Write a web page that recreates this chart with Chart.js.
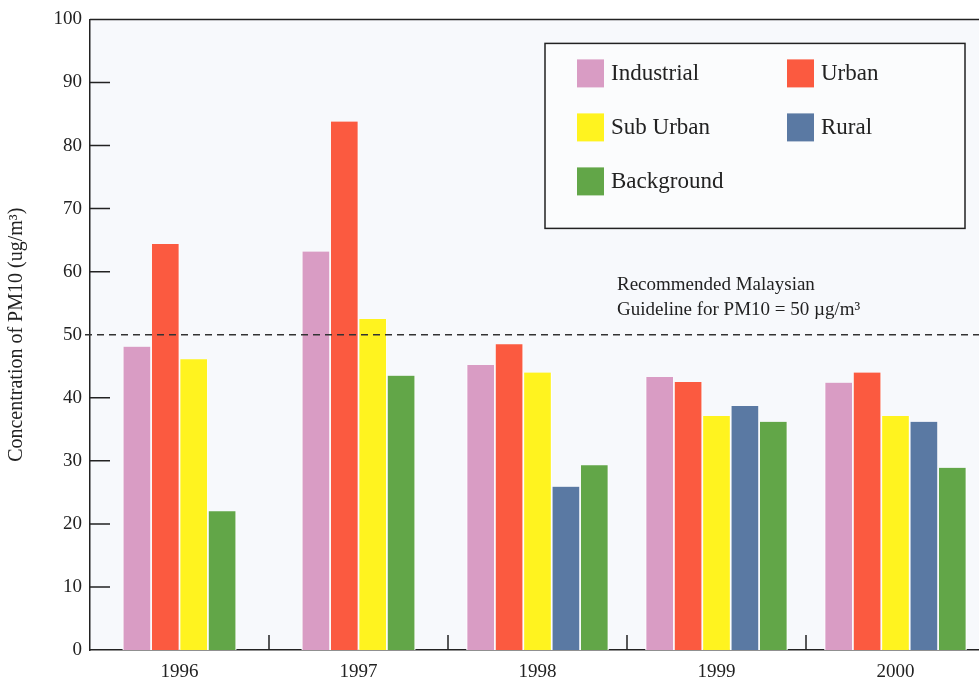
<!DOCTYPE html>
<html>
<head>
<meta charset="utf-8">
<title>PM10 concentration 1996-2000</title>
<script src="https://cdn.jsdelivr.net/npm/chart.js@4.4.1/dist/chart.umd.min.js"></script>
<style>
  html, body { margin: 0; padding: 0; background: #ffffff; overflow: hidden; }
  #wrap { width: 1000px; height: 686px; }
</style>
</head>
<body>
<div id="wrap"><canvas id="pm10" width="1000" height="686"></canvas></div>
<script>
// ─── data ───────────────────────────────────────────────────────
const years = ['1996', '1997', '1998', '1999', '2000'];

const industrial = [48.1, 63.2, 45.2, 43.3, 42.4];
const urban      = [64.4, 83.8, 48.5, 42.5, 44.0];
const subUrban   = [46.1, 52.5, 44.0, 37.1, 37.1];
const rural      = [null, null, 25.9, 38.7, 36.2];
const background = [22.0, 43.5, 29.3, 36.2, 28.9];

const guideline = 50;
const guidelineText = ['Recommended Malaysian', 'Guideline for PM10 = 50 \u00b5g/m\u00b3'];

const yTicks = [0, 10, 20, 30, 40, 50, 60, 70, 80, 90, 100];

// ─── look ───────────────────────────────────────────────────────
const serif = "'Liberation Serif', 'Times New Roman', serif";
const ink = '#222222';
const plotBg = '#f7f9fc';

function bars(label, data, color) {
  return {
    label,
    data,
    backgroundColor: color,
    borderColor: '#fcfdfe',
    borderWidth: { left: 1.2, right: 1.2, top: 0, bottom: 0 },
    borderSkipped: false,
    barThickness: 28.4,
  };
}

// plot background + top frame line
const framePlugin = {
  id: 'frame',
  beforeDraw(chart) {
    const { ctx, chartArea: a } = chart;
    ctx.save();
    ctx.fillStyle = plotBg;
    ctx.fillRect(a.left, a.top, a.right - a.left, a.bottom - a.top);
    ctx.restore();
  },
  afterDraw(chart) {
    const { ctx, chartArea: a } = chart;
    ctx.save();
    ctx.strokeStyle = ink;
    ctx.lineWidth = 1.5;
    ctx.beginPath();
    ctx.moveTo(a.left, a.top);
    ctx.lineTo(a.right, a.top);
    ctx.stroke();
    ctx.restore();
  },
};

// inward tick marks on both axes
const tickPlugin = {
  id: 'inwardTicks',
  afterDatasetsDraw(chart) {
    const { ctx, chartArea: a, scales: { x, y } } = chart;
    ctx.save();
    ctx.strokeStyle = ink;
    ctx.lineWidth = 1.5;
    ctx.beginPath();
    y.ticks.forEach((t) => {
      if (t.value === 0 || t.value === 100 || t.value === guideline) return;
      const py = y.getPixelForValue(t.value);
      ctx.moveTo(a.left, py);
      ctx.lineTo(a.left + 20, py);
    });
    for (let i = 1; i < years.length; i++) {
      const px = (x.getPixelForValue(i - 1) + x.getPixelForValue(i)) / 2;
      ctx.moveTo(px, a.bottom);
      ctx.lineTo(px, a.bottom - 15);
    }
    ctx.stroke();
    ctx.restore();
  },
};

// dashed guideline with its caption
const guidelinePlugin = {
  id: 'guideline',
  afterDatasetsDraw(chart) {
    const { ctx, chartArea: a, scales: { y } } = chart;
    const py = y.getPixelForValue(guideline);
    ctx.save();
    ctx.strokeStyle = '#333333';
    ctx.lineWidth = 1.4;
    ctx.setLineDash([7, 5]);
    ctx.beginPath();
    ctx.moveTo(a.left - 5, py);
    ctx.lineTo(a.right, py);
    ctx.stroke();
    ctx.setLineDash([]);
    ctx.fillStyle = ink;
    ctx.font = `19px ${serif}`;
    ctx.textBaseline = 'middle';
    ctx.textAlign = 'left';
    ctx.fillText(guidelineText[0], a.left + 527, py - 50);
    ctx.fillText(guidelineText[1], a.left + 527, py - 25);
    ctx.restore();
  },
};

// boxed two-column legend
const legendPlugin = {
  id: 'boxLegend',
  afterDraw(chart) {
    const { ctx, chartArea: a } = chart;
    const bx = a.left + 455, by = a.top + 24, bw = 420, bh = 185;
    ctx.save();
    ctx.fillStyle = '#fbfcfd';
    ctx.fillRect(bx, by, bw, bh);
    ctx.strokeStyle = ink;
    ctx.lineWidth = 1.5;
    ctx.strokeRect(bx, by, bw, bh);
    ctx.font = `23px ${serif}`;
    ctx.textBaseline = 'middle';
    ctx.textAlign = 'left';
    chart.data.datasets.forEach((ds, i) => {
      const col = i % 2, row = Math.floor(i / 2);
      const sx = bx + 32 + col * 210;
      const cy = by + 30 + row * 54;
      ctx.fillStyle = ds.backgroundColor;
      ctx.fillRect(sx, cy - 14, 27, 28);
      ctx.fillStyle = ink;
      ctx.fillText(ds.label, sx + 34, cy + 1);
    });
    ctx.restore();
  },
};

new Chart(document.getElementById('pm10'), {
  type: 'bar',
  data: {
    labels: years,
    datasets: [
      bars('Industrial', industrial, '#d99cc4'),
      bars('Urban', urban, '#fb5a40'),
      bars('Sub Urban', subUrban, '#fff31f'),
      bars('Rural', rural, '#5a79a3'),
      bars('Background', background, '#62a648'),
    ],
  },
  options: {
    responsive: false,
    animation: false,
    skipNull: true,
    layout: { padding: { top: 18, right: 15, left: 0, bottom: 0 } },
    plugins: { legend: { display: false }, tooltip: { enabled: false } },
    scales: {
      x: {
        grid: { display: false },
        border: { display: true, color: ink, width: 1.5 },
        ticks: { color: ink, font: { family: serif, size: 19 }, padding: 3 },
        afterFit(scale) { scale.height = 36; },
      },
      y: {
        min: 0,
        max: 100,
        afterBuildTicks(scale) { scale.ticks = yTicks.map((v) => ({ value: v })); },
        grid: { display: false, drawTicks: false },
        border: { display: true, color: ink, width: 1.5 },
        ticks: { color: ink, font: { family: serif, size: 19 }, padding: 8 },
        title: {
          display: true,
          text: 'Concentration of PM10 (ug/m\u00b3)',
          color: ink,
          font: { family: serif, size: 20 },
          padding: { top: 5, bottom: 0 },
        },
        afterFit(scale) { scale.width = 90; },
      },
    },
  },
  plugins: [framePlugin, tickPlugin, guidelinePlugin, legendPlugin],
});
</script>
</body>
</html>
